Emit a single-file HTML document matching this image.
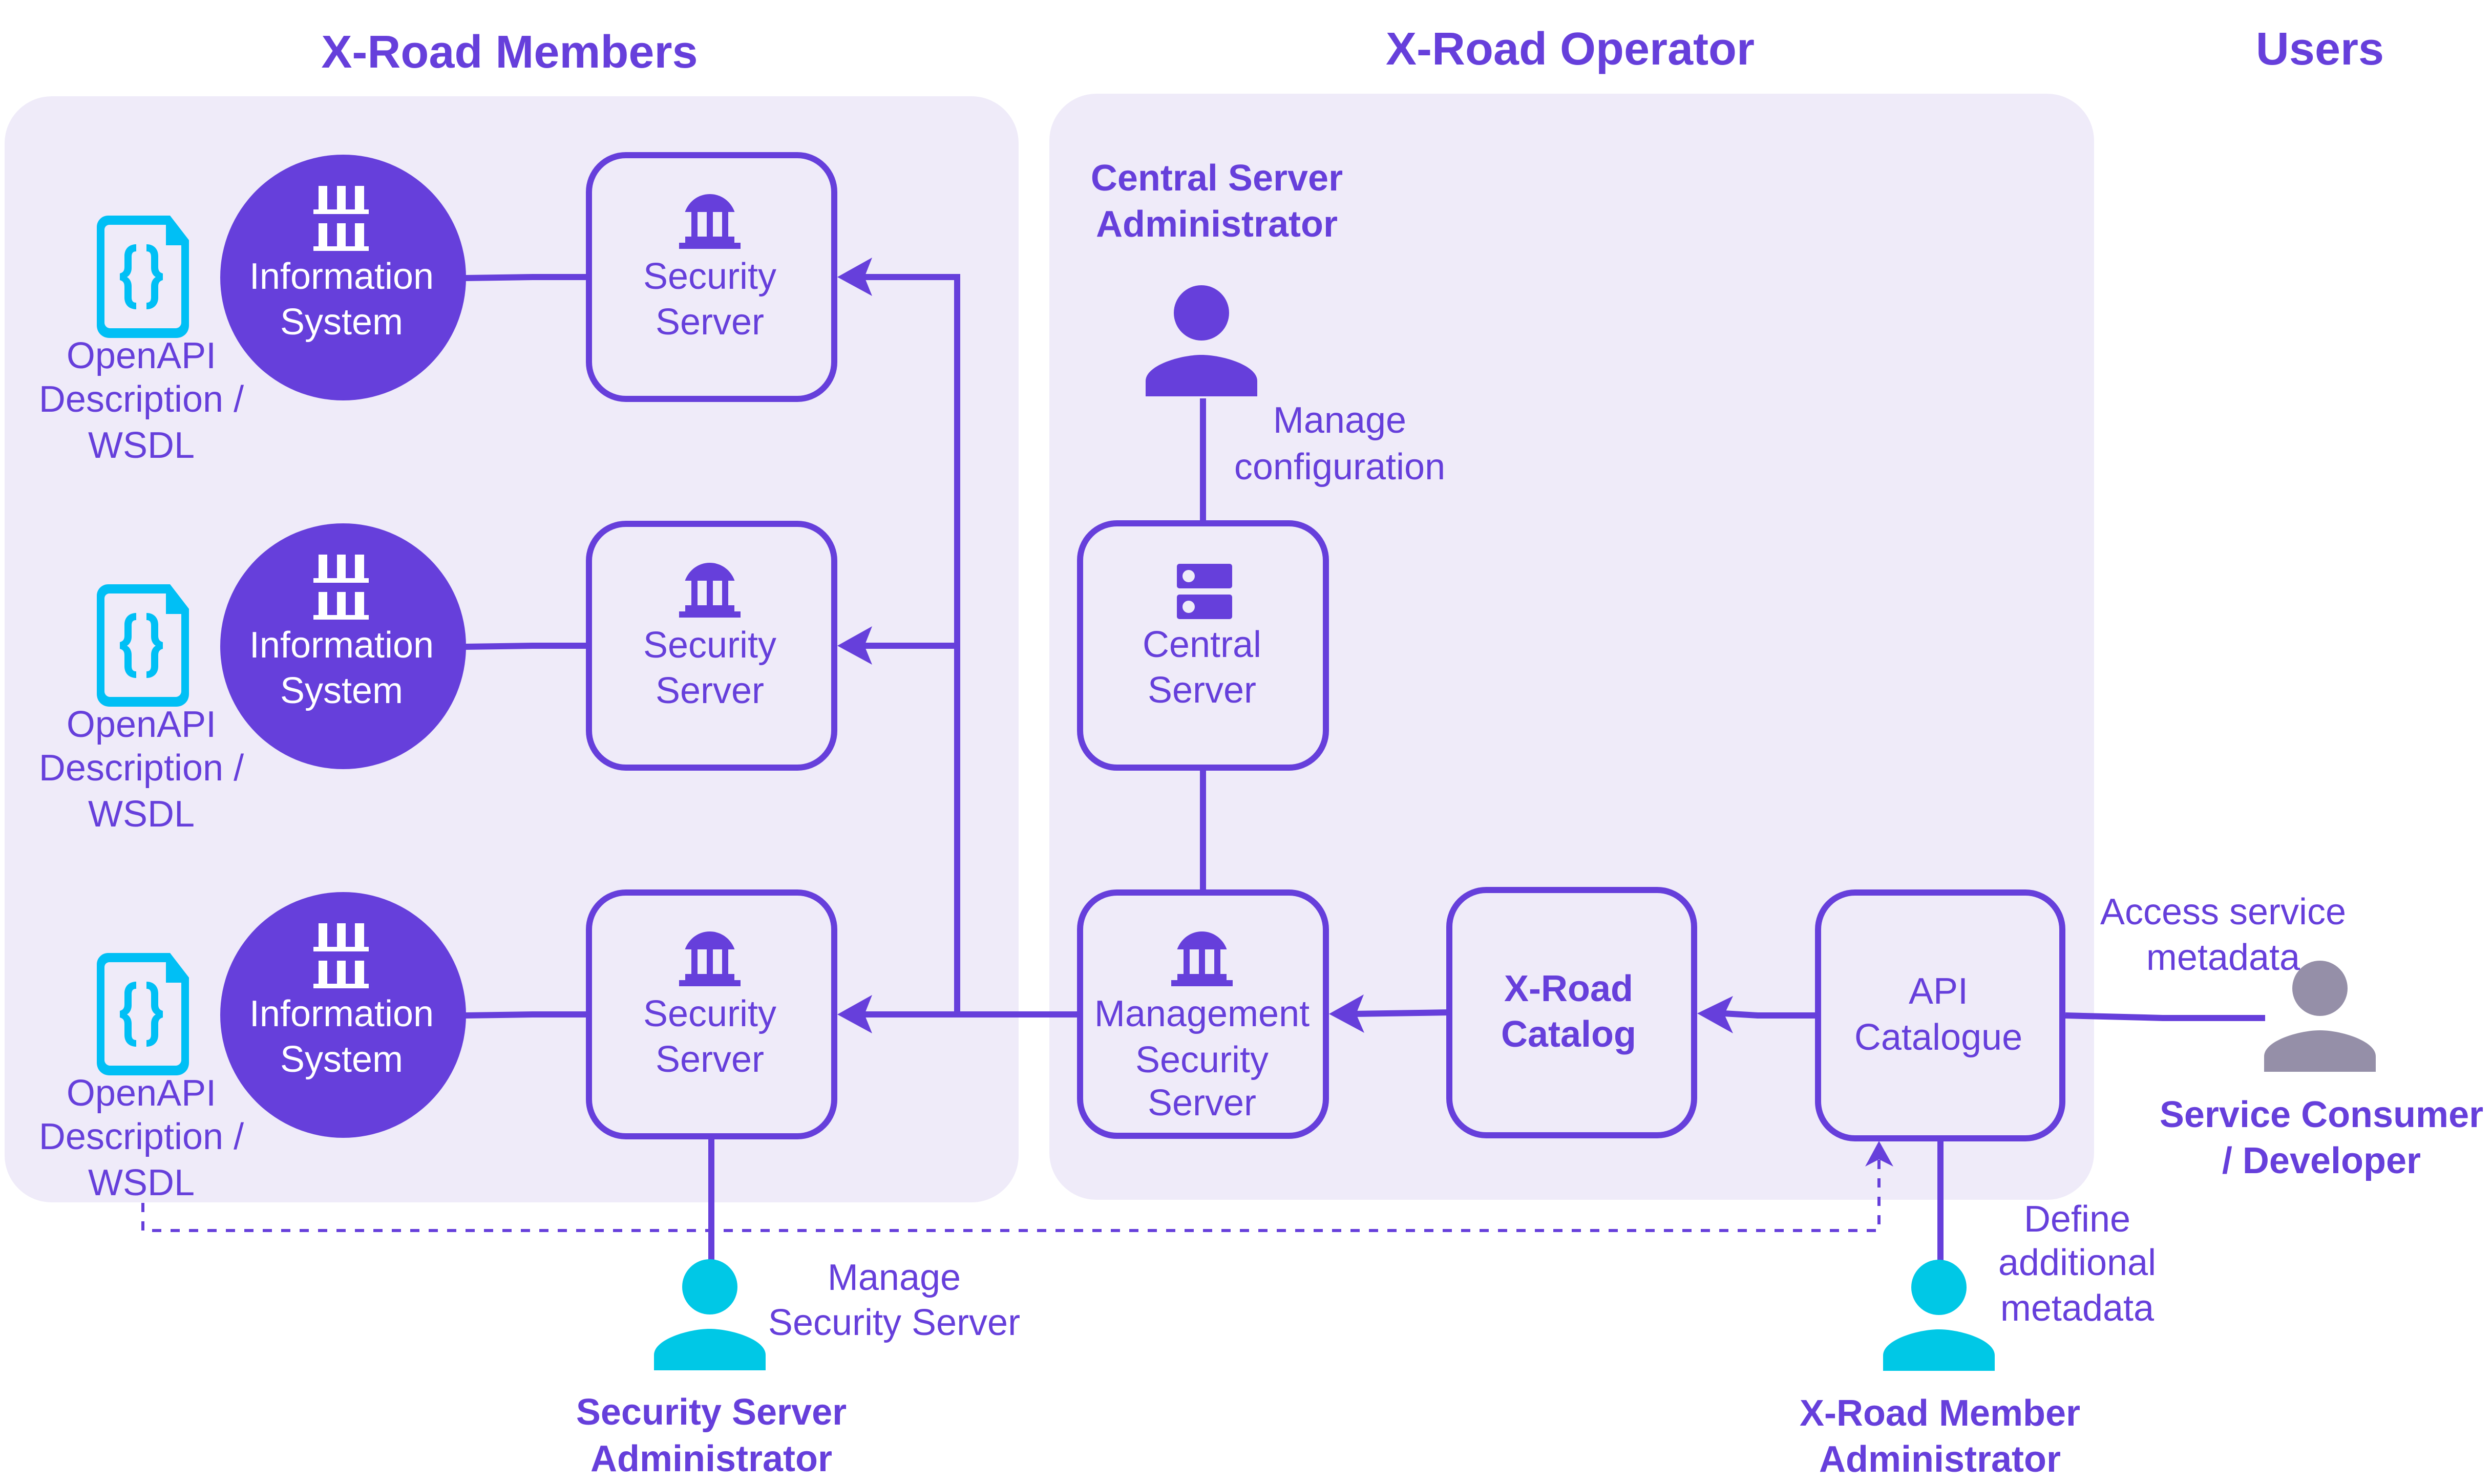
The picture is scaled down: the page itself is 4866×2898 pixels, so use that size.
<!DOCTYPE html>
<html><head><meta charset="utf-8"><style>
html,body{margin:0;padding:0;background:#fff}
svg{display:block}
text{font-family:"Liberation Sans",Arial,sans-serif;font-size:72px;fill:#663fdb;text-anchor:middle}
.b{font-weight:bold}
.t{font-weight:bold;font-size:90px}
.w{fill:#fff}
.l{fill:none;stroke:#663fdb;stroke-width:12}
.box{fill:none;stroke:#663fdb;stroke-width:12}
</style></head><body>
<svg xmlns="http://www.w3.org/2000/svg" width="4866" height="2898" viewBox="0 0 4866 2898">
<defs>
<g id="is" fill="#fff">
<rect x="-48" y="-180" width="17" height="47"/><rect x="-12" y="-180" width="17" height="47"/><rect x="23" y="-180" width="18" height="47"/><rect x="-58" y="-134" width="108" height="9"/>
<rect x="-48" y="-107" width="17" height="46"/><rect x="-12" y="-107" width="17" height="46"/><rect x="23" y="-107" width="18" height="46"/><rect x="-58" y="-62" width="108" height="9"/>
</g>
<g id="bank" fill="#663fdb">
<path d="M-48.5 414C-41 393-22 379 0 379S41 393 48.5 414Z"/>
<rect x="-36" y="413" width="12" height="50"/><rect x="-6" y="413" width="12" height="50"/><rect x="24" y="413" width="12" height="50"/>
<rect x="-48" y="462" width="96" height="13"/><rect x="-60" y="474" width="120" height="12"/>
</g>
<g id="file">
<path d="M211 421H332L369 469V635C369 650 358 660 344 660H214C200 660 189 650 189 635V443C189 431 199 421 211 421Z" fill="#00bff5"/>
<path d="M214 439H324V479H354V630C354 636 349 641 343 641H215C209 641 204 636 204 630V449C204 443 208 439 214 439Z" fill="#efebf9"/>
<g id="brace"><path d="M266 477V491C259 491 257 495 257 502V523C257 532 253 538 248 541C253 544 257 550 257 559V580C257 587 259 591 266 591V604C252 604 243 595 243 581V560C243 553 241 549 234 547V534C241 532 243 528 243 521V500C243 486 252 477 266 477Z" fill="#00bff5"/></g>
<path d="M266 477V491C259 491 257 495 257 502V523C257 532 253 538 248 541C253 544 257 550 257 559V580C257 587 259 591 266 591V604C252 604 243 595 243 581V560C243 553 241 549 234 547V534C241 532 243 528 243 521V500C243 486 252 477 266 477Z" fill="#00bff5" transform="translate(552 0) scale(-1 1)"/>
</g>
<g id="person">
<path d="M-109 81V51C-109 20-40 0 0 0S109 20 109 51V81Z"/>
<circle cx="0" cy="-82" r="54"/>
</g>
</defs>

<rect x="9" y="188" width="1980" height="2160" rx="92" fill="#efebf9"/>
<rect x="2049" y="183" width="2040" height="2160" rx="92" fill="#efebf9"/>

<text class="t" x="995" y="132">X-Road Members</text>
<text class="t" x="3066" y="126">X-Road Operator</text>
<text class="t" x="4530" y="126">Users</text>

<path class="l" d="M909 543L1040 541H1150"/>
<path class="l" d="M909 1263L1040 1261H1150"/>
<path class="l" d="M909 1983L1040 1981H1150"/>
<circle cx="670" cy="542" r="240" fill="#663fdb"/>
<circle cx="670" cy="1262" r="240" fill="#663fdb"/>
<circle cx="670" cy="1982" r="240" fill="#663fdb"/>
<use href="#is" x="670" y="543"/><use href="#is" x="670" y="1263"/><use href="#is" x="670" y="1983"/>
<text class="w" x="667" y="564">Information</text><text class="w" x="667" y="653">System</text>
<text class="w" x="667" y="1284">Information</text><text class="w" x="667" y="1373">System</text>
<text class="w" x="667" y="2004">Information</text><text class="w" x="667" y="2093">System</text>
<use href="#file"/><use href="#file" y="720"/><use href="#file" y="1440"/>
<text x="276" y="719">OpenAPI</text><text x="276" y="804">Description /</text><text x="276" y="894">WSDL</text>
<text x="276" y="1439">OpenAPI</text><text x="276" y="1524">Description /</text><text x="276" y="1614">WSDL</text>
<text x="276" y="2159">OpenAPI</text><text x="276" y="2244">Description /</text><text x="276" y="2334">WSDL</text>

<rect class="box" x="1150" y="303" width="479" height="476" rx="72"/>
<rect class="box" x="1150" y="1023" width="479" height="476" rx="72"/>
<rect class="box" x="1150" y="1743" width="479" height="476" rx="72"/>
<use href="#bank" x="1386"/><use href="#bank" x="1386" y="720"/><use href="#bank" x="1386" y="1440"/>
<text x="1386" y="564">Security</text><text x="1386" y="653">Server</text>
<text x="1386" y="1284">Security</text><text x="1386" y="1373">Server</text>
<text x="1386" y="2004">Security</text><text x="1386" y="2093">Server</text>

<path class="l" d="M1685 541H1869V1981M1685 1261H1869M1685 1981H2109"/>
<path d="M1635 541L1703 503L1688 541L1703 578Z" fill="#663fdb"/>
<path d="M1635 1261L1703 1223L1688 1261L1703 1298Z" fill="#663fdb"/>
<path d="M1635 1981L1703 1943L1688 1981L1703 2018Z" fill="#663fdb"/>

<text class="b" x="2376" y="372">Central Server</text>
<text class="b" x="2376" y="462">Administrator</text>
<use href="#person" x="2346" y="693" fill="#663fdb"/>
<path class="l" d="M2349 778V1022M2349 1499V1743"/>
<text x="2616" y="845">Manage</text><text x="2616" y="936">configuration</text>
<rect class="box" x="2109" y="1022" width="480" height="477" rx="72"/>
<rect x="2298" y="1101" width="108" height="48" rx="5" fill="#663fdb"/>
<rect x="2298" y="1161" width="108" height="48" rx="5" fill="#663fdb"/>
<circle cx="2321" cy="1125" r="12" fill="#efebf9"/><circle cx="2321" cy="1185" r="12" fill="#efebf9"/>
<text x="2347" y="1283">Central</text><text x="2347" y="1372">Server</text>

<rect class="box" x="2109" y="1743" width="480" height="475" rx="72"/>
<use href="#bank" x="2347" y="1440"/>
<text x="2347" y="2004">Management</text><text x="2347" y="2094">Security</text><text x="2347" y="2178">Server</text>

<path class="l" d="M2645 1980L2830 1977"/>
<path d="M2595 1980L2663 1942L2648 1980L2664 2017Z" fill="#663fdb"/>
<rect class="box" x="2830" y="1738" width="478" height="479" rx="72"/>
<text class="b" x="3063" y="1955">X-Road</text><text class="b" x="3063" y="2044">Catalog</text>

<path class="l" d="M3366 1979L3432 1983H3550"/>
<path d="M3314 1979L3384 1945L3367 1981L3384 2018Z" fill="#663fdb"/>
<rect class="box" x="3550" y="1743" width="477" height="480" rx="72"/>
<text x="3785" y="1960">API</text><text x="3785" y="2050">Catalogue</text>

<path class="l" d="M4033 1983L4223 1988H4423"/>
<use href="#person" x="4530" y="2012" fill="#958fa8"/>
<text x="4341" y="1805">Access service</text><text x="4341" y="1894">metadata</text>
<text class="b" x="4533" y="2201">Service Consumer</text><text class="b" x="4533" y="2291">/ Developer</text>

<path d="M279 2349V2403H3669V2262" fill="none" stroke="#663fdb" stroke-width="6" stroke-dasharray="18 18"/>
<path d="M3669 2228L3697 2278L3669 2264L3642 2278Z" fill="#663fdb"/>

<path class="l" d="M1389 2225V2465M3789 2229V2465"/>
<use href="#person" x="1386" y="2595" fill="#00c8e6"/>
<use href="#person" x="3786" y="2596" fill="#00c8e6"/>
<text x="1746" y="2519">Manage</text><text x="1746" y="2607">Security Server</text>
<text class="b" x="1389" y="2782">Security Server</text><text class="b" x="1389" y="2873">Administrator</text>
<text x="4056" y="2405">Define</text><text x="4056" y="2490">additional</text><text x="4056" y="2579">metadata</text>
<text class="b" x="3788" y="2784">X-Road Member</text><text class="b" x="3788" y="2874">Administrator</text>
</svg>
</body></html>
